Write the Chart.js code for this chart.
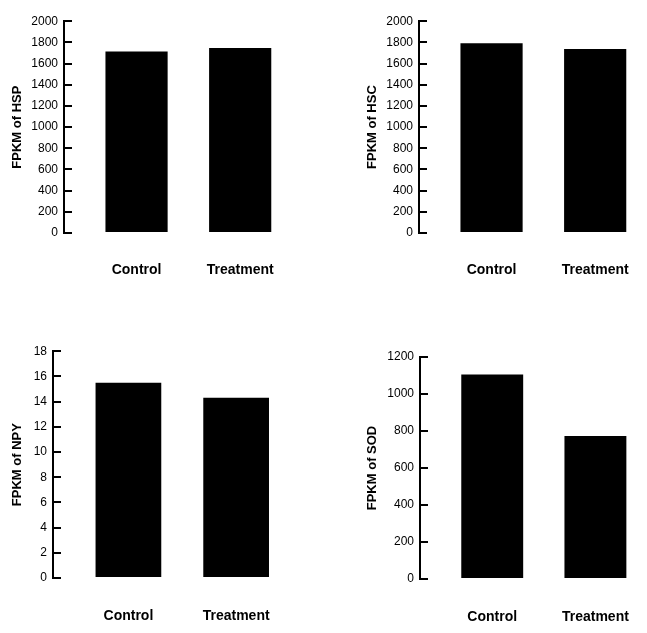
<!DOCTYPE html>
<html>
<head>
<meta charset="utf-8">
<script src="https://cdn.jsdelivr.net/npm/chart.js@4"></script>
<style>
    html, body { margin: 0; padding: 0; background: #fff; overflow: hidden; }
    body { width: 647px; height: 633px; position: relative; }
    canvas { position: absolute; }
</style>
</head>
<body>
<canvas id="hsp" width="292" height="290" style="left:0px;top:0px"></canvas>
<canvas id="hsc" width="292" height="290" style="left:355px;top:0px"></canvas>
<canvas id="npy" width="290" height="303" style="left:0px;top:330px"></canvas>
<canvas id="sod" width="292" height="303" style="left:355px;top:330px"></canvas>
<script>
const categories = ['Control', 'Treatment'];

const hspValues = [1714, 1746];
const hscValues = [1792, 1737];
const npyValues = [15.5, 14.3];
const sodValues = [1105, 773];

// y axis: max and step of the tick labels
const hspTicks = [2000, 200];
const hscTicks = [2000, 200];
const npyTicks = [18, 2];
const sodTicks = [1200, 200];

const FONT = "'Liberation Sans', Arial, sans-serif";

function makeChart(id, title, values, ticks, box) {
    const ctx = document.getElementById(id).getContext('2d');

    return new Chart(ctx, {
        type: 'bar',
        data: {
            datasets: [{
                data: values.map((v, i) => ({ x: i, y: v })),
                backgroundColor: '#000000',
                borderWidth: 0,
                categoryPercentage: box.barPct,
                barPercentage: 1
            }]
        },
        options: {
            responsive: false,
            animation: false,
            layout: { padding: { top: box.top, left: 0, right: 0, bottom: 0 } },
            scales: {
                x: {
                    type: 'linear',
                    offset: false,
                    min: -0.7,
                    max: 1.5,
                    grid: { display: false, drawTicks: false },
                    border: { display: false },
                    ticks: {
                        stepSize: 1,
                        includeBounds: false,
                        autoSkip: false,
                        maxRotation: 0,
                        padding: box.labelPad,
                        color: '#000',
                        font: { family: FONT, size: 14, weight: 'bold' },
                        callback: (v) => categories[v] ?? ''
                    },
                    afterFit(scale) {
                        scale.height = box.xHeight;
                        // labels sit well inside the plot, no side padding needed
                        scale.paddingLeft = 0;
                        scale.paddingRight = 0;
                    }
                },
                y: {
                    min: 0,
                    max: ticks[0],
                    grid: {
                        drawOnChartArea: false,
                        drawTicks: true,
                        tickLength: -8,
                        color: '#000',
                        lineWidth: 2
                    },
                    border: { display: true, color: '#000', width: 2 },
                    ticks: {
                        stepSize: ticks[1],
                        padding: 14,
                        color: '#000',
                        font: { family: FONT, size: 12 },
                        callback: (v) => String(v)
                    },
                    title: {
                        display: true,
                        text: title,
                        color: '#000',
                        padding: { top: 10, bottom: 0 },
                        font: { family: FONT, size: 13, weight: 'bold' }
                    },
                    afterFit(scale) { scale.width = box.yWidth; }
                }
            },
            plugins: {
                legend: { display: false },
                tooltip: { enabled: false }
            }
        }
    });
}

makeChart('hsp', 'FPKM of HSP', hspValues, hspTicks, { top: 11, xHeight: 57, yWidth: 64, labelPad: 29, barPct: 0.6 });
makeChart('hsc', 'FPKM of HSC', hscValues, hscTicks, { top: 11, xHeight: 57, yWidth: 64, labelPad: 29, barPct: 0.6 });
makeChart('npy', 'FPKM of NPY', npyValues, npyTicks, { top: 15, xHeight: 55, yWidth: 53, labelPad: 30, barPct: 0.61 });
makeChart('sod', 'FPKM of SOD', sodValues, sodTicks, { top: 27, xHeight: 54, yWidth: 65, labelPad: 30, barPct: 0.6 });
</script>
</body>
</html>
